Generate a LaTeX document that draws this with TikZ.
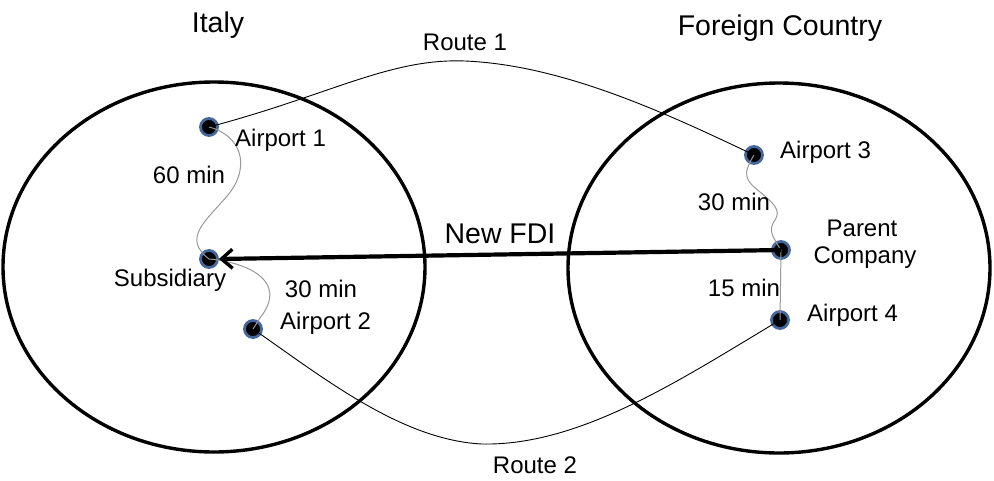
\documentclass[tikz,border=0pt]{standalone}
\usepackage{fontspec}
\setmainfont{Liberation Sans}
\usetikzlibrary{arrows.meta}
\definecolor{ringblue}{HTML}{46679C}
\begin{document}
\begin{tikzpicture}[x=1pt,y=-1pt,
  country/.style={draw=black,line width=3.4pt},
  dot/.style={circle,fill=black,draw=ringblue,line width=2.8pt,minimum size=17pt,inner sep=0pt},
  lbl/.style={font=\fontsize{24}{30}\selectfont,inner sep=0pt},
  ttl/.style={font=\fontsize{28.5}{32}\selectfont,inner sep=0pt},
  route/.style={draw=black,line width=0.9pt},
  wavy/.style={draw=gray!80,line width=1pt}]
\useasboundingbox (0,0) rectangle (994,480);
\fill[white] (0,0) rectangle (994,480);
% countries
\draw[country] (214,267) ellipse [x radius=211, y radius=185];
\draw[country] (779,268) ellipse [x radius=211, y radius=185];
% points
\node[dot] (a1) at (209,127) {};
\node[dot] (sub) at (209,259) {};
\node[dot] (a2) at (253,329) {};
\node[dot] (a3) at (754,155) {};
\node[dot] (par) at (781,250) {};
\node[dot] (a4) at (780,320) {};
% routes
\draw[route] (a1.center) .. controls (330,95) and (390,58) .. (465,61)
  .. controls (560,65) and (660,110) .. (a3.center);
\draw[route] (a2.center) .. controls (320,375) and (400,440) .. (482,444)
  .. controls (580,446) and (680,380) .. (a4.center);
% ground links
\draw[wavy] (a1.center) .. controls (240,135) and (252,165) .. (228,195)
  .. controls (205,222) and (182,238) .. (sub.center);
\draw[wavy] (sub.center) .. controls (245,262) and (290,280) .. (260,318) -- (a2.center);
\draw[wavy] (a3.center) .. controls (742,175) and (745,180) .. (760,192)
  .. controls (772,202) and (782,210) .. (775,220)
  .. controls (768,230) and (772,236) .. (par.center);
\draw[wavy] (par.center) -- (a4.center);
% new FDI
\draw[line width=4.2pt,-{Straight Barb[length=11pt,width=19pt,line width=3.4pt]}] (par.center) -- (sub.east);
% labels
\node[ttl] (italy) at (218,25) {Italy};
\node[ttl] (foreign) at (780,28) {Foreign Country};
\node[lbl] (r1) at (465,42) {Route 1};
\node[lbl] (r2) at (535,465) {Route 2};
\node[lbl,anchor=west] (la1) at (235,140) {Airport 1};
\node[lbl] (t60) at (189,175) {60 min};
\node[lbl] (lsub) at (170,280) {Subsidiary};
\node[lbl] (t30a) at (321,289) {30 min};
\node[lbl,anchor=west] (la2) at (280,323) {Airport 2};
\node[ttl] (fdi) at (500,234) {New FDI};
\node[lbl,anchor=west] (la3) at (780,152) {Airport 3};
\node[lbl] (t30b) at (734,202) {30 min};
\node[lbl] (lpar1) at (862,228) {Parent};
\node[lbl] (lpar2) at (865,258) {Company};
\node[lbl] (t15) at (744,288) {15 min};
\node[lbl,anchor=west] (la4) at (807,315) {Airport 4};
\end{tikzpicture}
\end{document}
